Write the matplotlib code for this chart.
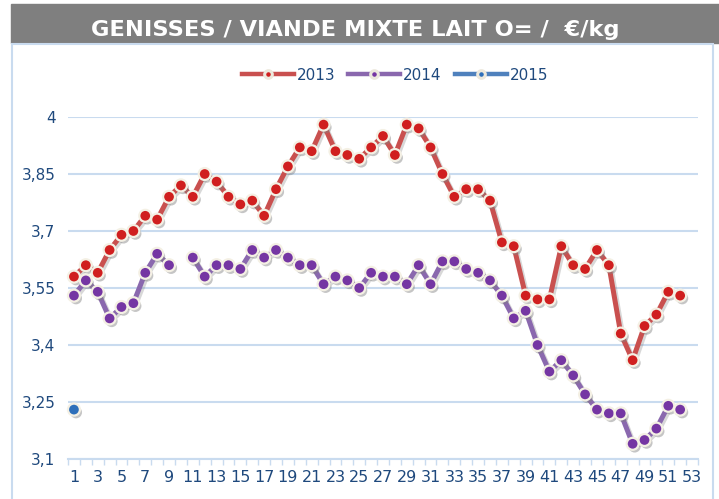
import numpy as np
import matplotlib
matplotlib.use("Agg")
import matplotlib.pyplot as plt
import matplotlib.patheffects as pe
from matplotlib.lines import Line2D
from matplotlib.patches import Rectangle

# prix hebdo genisses viande/mixte/lait O= (EUR/kg)
weeks = list(range(1, 54))
prix_2013 = [3.58, 3.61, 3.59, 3.65, 3.69, 3.70, 3.74, 3.73, 3.79, 3.82,
             3.79, 3.85, 3.83, 3.79, 3.77, 3.78, 3.74, 3.81, 3.87, 3.92,
             3.91, 3.98, 3.91, 3.90, 3.89, 3.92, 3.95, 3.90, 3.98, 3.97,
             3.92, 3.85, 3.79, 3.81, 3.81, 3.78, 3.67, 3.66, 3.53, 3.52,
             3.52, 3.66, 3.61, 3.60, 3.65, 3.61, 3.43, 3.36, 3.45, 3.48,
             3.54, 3.53]
prix_2014 = [3.53, 3.57, 3.54, 3.47, 3.50, 3.51, 3.59, 3.64, 3.61, np.nan,
             3.63, 3.58, 3.61, 3.61, 3.60, 3.65, 3.63, 3.65, 3.63, 3.61,
             3.61, 3.56, 3.58, 3.57, 3.55, 3.59, 3.58, 3.58, 3.56, 3.61,
             3.56, 3.62, 3.62, 3.60, 3.59, 3.57, 3.53, 3.47, 3.49, 3.40,
             3.33, 3.36, 3.32, 3.27, 3.23, 3.22, 3.22, 3.14, 3.15, 3.18,
             3.24, 3.23]
prix_2015 = [3.23]

yticks = [3.1, 3.25, 3.4, 3.55, 3.7, 3.85, 4.0]
xlabels = [str(w) for w in weeks if w % 2 == 1]

series = [
    ("2013", prix_2013, "#c9504f", "#d01f1f"),
    ("2014", prix_2014, "#8a68ae", "#7536a3"),
    ("2015", prix_2015, "#4f81bd", "#2e6fba"),
]

navy = "#1f497d"
grid_c = "#c9dbef"
W, H = 719, 499

fig = plt.figure(figsize=(W / 100, H / 100), dpi=100)

# bandeau titre + cadre
fig.patches.append(Rectangle((11 / W, 1 - 43 / H), 1 - 11 / W, 39 / H,
                             transform=fig.transFigure, color="#7f7f7f", zorder=0))
fig.patches.append(Rectangle((12 / W, -0.02), (713 - 12) / W, (H - 44) / H + 0.02,
                             transform=fig.transFigure, fill=False,
                             edgecolor=grid_c, lw=1.5, zorder=0))
fig.text(355 / W, 1 - 36 / H, "GENISSES / VIANDE MIXTE LAIT O= /  €/kg",
         color="white", fontweight="bold", fontsize=16.2, ha="center",
         va="baseline", family="DejaVu Sans")

ax = fig.add_axes([68 / W, 1 - 459 / H, 630 / W, (459 - 117) / H])

shadow_line = [pe.SimpleLineShadow(offset=(1.5, -1.5), shadow_color="gray", alpha=0.3), pe.Normal()]
shadow_dot = [pe.SimplePatchShadow(offset=(1.5, -2), shadow_rgbFace="gray", alpha=0.45), pe.Normal()]

for i, (lab, vals, lc, mc) in enumerate(series):
    x = weeks[:len(vals)]
    ax.plot(x, vals, color=lc, lw=3.6, zorder=2 + 2 * i, solid_capstyle="butt",
            path_effects=shadow_line)
    ax.plot(x, vals, ls="none", marker="o", ms=8.6, mfc=mc, mec="#f4f0e4",
            mew=1.6, zorder=3 + 2 * i, path_effects=shadow_dot, clip_on=False)

ax.set_xlim(0.5, 53.5)
ax.set_ylim(3.1, 4.0)
ax.set_yticks(yticks)
ax.set_yticklabels([f"{v:g}".replace(".", ",") for v in yticks])
ax.set_xticks([w for w in weeks if w % 2 == 1])
ax.set_xticklabels(xlabels)
ax.set_xticks(np.arange(0.5, 54, 1), minor=True)
ax.tick_params(axis="y", length=0, pad=9, labelsize=11, labelcolor=navy)
ax.tick_params(axis="x", which="major", length=0, pad=8, labelsize=11.5, labelcolor=navy)
ax.tick_params(axis="x", which="minor", length=4, width=1, color=grid_c, direction="out")
ax.grid(axis="y", color=grid_c, lw=1.5)
ax.set_axisbelow(True)
for s in ["top", "left", "right"]:
    ax.spines[s].set_visible(False)
ax.spines["bottom"].set_color(grid_c)
ax.spines["bottom"].set_linewidth(1.5)

handles = [Line2D([], [], color=lc, lw=3.2, marker="o", ms=5.5, mfc=mc, mec="#ece8dc", mew=2.2)
           for lab, vals, lc, mc in series]
fig.legend(handles, [s[0] for s in series], loc="center", bbox_to_anchor=(395 / W, 1 - 75 / H),
           ncol=3, frameon=False, fontsize=11, handlelength=3.4, handletextpad=0.2,
           columnspacing=0.85, labelcolor=navy)

fig.savefig("out.png", dpi=100)
